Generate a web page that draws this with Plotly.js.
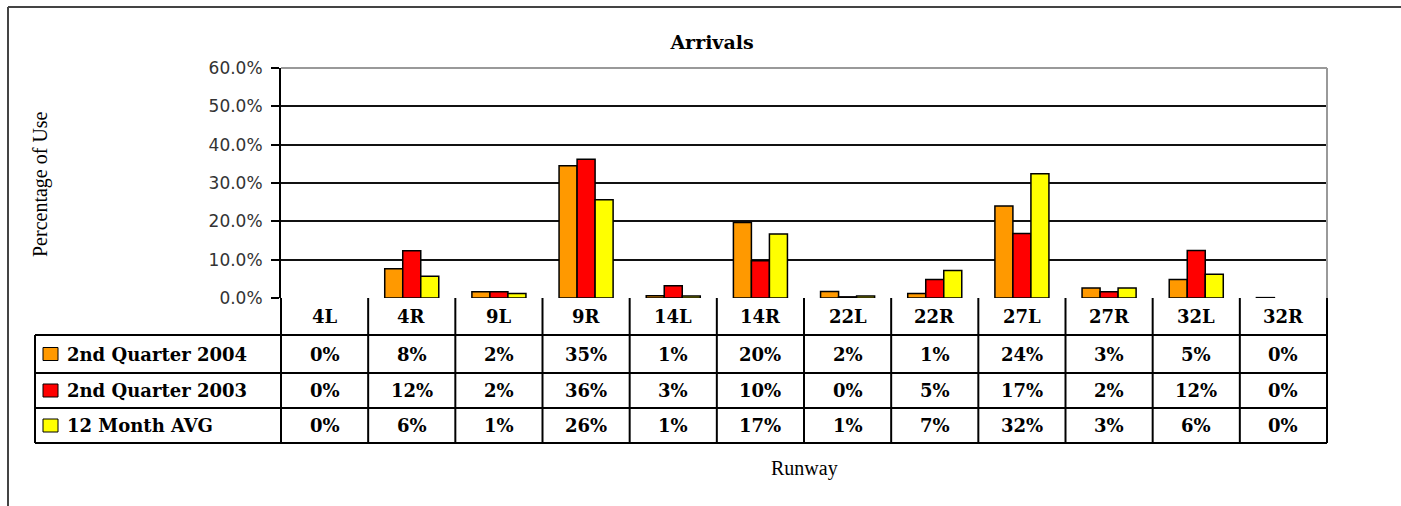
<!DOCTYPE html>
<html>
<head>
<meta charset="utf-8">
<script src="https://cdn.plot.ly/plotly-3.0.1.min.js"></script>
<style>
  html, body { margin: 0; padding: 0; background: #fff; }
  #chart { width: 1401px; height: 506px; }
</style>
</head>
<body>
<div id="chart"></div>
<script>
// ---- data ----
const runways = ['4L', '4R', '9L', '9R', '14L', '14R', '22L', '22R', '27L', '27R', '32L', '32R'];
const q2004 = [0, 7.6, 1.6, 34.5, 0.6, 19.7, 1.7, 1.2, 24.0, 2.6, 4.8, 0.1];
const q2003 = [0, 12.3, 1.6, 36.2, 3.2, 9.7, 0.3, 4.8, 16.8, 1.6, 12.4, 0];
const avg12 = [0, 5.7, 1.2, 25.6, 0.5, 16.7, 0.5, 7.2, 32.4, 2.6, 6.2, 0];
const seriesNames = ['2nd Quarter 2004', '2nd Quarter 2003', '12 Month AVG'];
const seriesColors = ['#FF9900', '#FF0000', '#FFFF00'];
const chartTitle = 'Arrivals';
const yTitle = 'Percentage of Use';
const xTitle = 'Runway';

const seriesValues = [q2004, q2003, avg12];

// ---- geometry helpers (pixel -> paper) ----
const W = 1401, H = 506;
const plotL = 281, plotR = 1327, plotT = 68, plotB = 298;
const pw = plotR - plotL, ph = plotB - plotT;
const px = p => (p - plotL) / pw;
const py = p => (plotB - p) / ph;

const tableLeft = 35;
const rowLines = [335, 373, 408, 443];   // horizontal lines of the data table
const headerMid = (plotB + rowLines[0]) / 2;
const rowMids = [0, 1, 2].map(i => (rowLines[i] + rowLines[i + 1]) / 2);

const serifBold = 'DejaVu Serif, Liberation Serif, serif';
const tableFont = { family: serifBold, size: 18, color: '#000' };

// ---- traces ----
const traces = seriesValues.map((vals, i) => ({
  type: 'bar',
  name: seriesNames[i],
  x: runways,
  y: vals,
  marker: {
    color: seriesColors[i],
    line: { color: '#000', width: vals.map(v => (v > 0 ? 1.5 : 0)) }
  },
  hoverinfo: 'x+y+name',
  showlegend: false
}));

// ---- shapes ----
const shapes = [];
const line = (x0, y0, x1, y1, xref, color, width) => ({
  type: 'line', xref: xref, yref: 'paper', x0, y0, x1, y1,
  line: { color: color, width: width }, layer: 'above'
});

// outer chart frame (left + top)
shapes.push(line(px(8), py(7), px(8), py(520), 'paper', '#444', 2));
shapes.push(line(px(8), py(7), px(1420), py(7), 'paper', '#444', 2));

// plot area border (top, right) in grey
shapes.push(line(0, 1, 1, 1, 'paper', '#999', 2));
shapes.push(line(1, 0, 1, 1, 'paper', '#999', 2));

// table horizontal lines
rowLines.forEach(r => shapes.push(line(px(tableLeft), py(r), 1, py(r), 'paper', '#000', 2)));
// table left edge of legend column
shapes.push(line(px(tableLeft), py(rowLines[0]), px(tableLeft), py(rowLines[3]), 'paper', '#000', 2));
// table column separators (outer edges in paper, inner on category boundaries)
shapes.push(line(0, py(plotB), 0, py(rowLines[3]), 'paper', '#000', 2));
shapes.push(line(1, py(plotB), 1, py(rowLines[3]), 'paper', '#000', 2));
for (let k = 1; k < runways.length; k++) {
  shapes.push(line(k - 0.5, py(plotB), k - 0.5, py(rowLines[3]), 'x', '#000', 2));
}
// legend keys
seriesColors.forEach((c, i) => {
  shapes.push({
    type: 'rect', xref: 'paper', yref: 'paper',
    x0: px(43), x1: px(58), y0: py(rowMids[i] - 6.5), y1: py(rowMids[i] + 6.5),
    fillcolor: c, line: { color: '#000', width: 1 }, layer: 'above'
  });
});

// ---- annotations ----
const annotations = [];
// header row: runway names
runways.forEach(r => annotations.push({
  xref: 'x', yref: 'paper', x: r, y: py(headerMid),
  text: '<b>' + r + '</b>', showarrow: false, font: tableFont,
  xanchor: 'center', yanchor: 'middle'
}));
// value rows
seriesValues.forEach((vals, i) => {
  annotations.push({
    xref: 'paper', yref: 'paper', x: px(65), y: py(rowMids[i]),
    text: '<b>' + seriesNames[i] + '</b>', showarrow: false, font: tableFont,
    xanchor: 'left', yanchor: 'middle'
  });
  vals.forEach((v, j) => annotations.push({
    xref: 'x', yref: 'paper', x: runways[j], y: py(rowMids[i]),
    text: '<b>' + Math.round(v) + '%</b>', showarrow: false, font: tableFont,
    xanchor: 'center', yanchor: 'middle'
  }));
});
// axis titles
annotations.push({
  xref: 'paper', yref: 'paper', x: px(40), y: py(184), textangle: -90,
  text: yTitle, showarrow: false,
  font: { family: 'Liberation Serif, serif', size: 20, color: '#000' },
  xanchor: 'center', yanchor: 'middle'
});
annotations.push({
  xref: 'paper', yref: 'paper', x: 0.5, y: py(468),
  text: xTitle, showarrow: false,
  font: { family: 'Liberation Serif, serif', size: 20, color: '#000' },
  xanchor: 'center', yanchor: 'middle'
});

const layout = {
  width: W, height: H,
  margin: { l: plotL, r: W - plotR, t: plotT, b: H - plotB, pad: 0 },
  paper_bgcolor: '#fff', plot_bgcolor: '#fff',
  title: {
    text: '<b>' + chartTitle + '</b>',
    font: { family: serifBold, size: 19, color: '#000' },
    x: 712 / W, xref: 'container', xanchor: 'center',
    y: 1 - 42 / H, yref: 'container', yanchor: 'middle'
  },
  barmode: 'group', bargap: 0.38, bargroupgap: 0,
  xaxis: {
    type: 'category', categoryorder: 'array', categoryarray: runways,
    range: [-0.5, runways.length - 0.5],
    showticklabels: false, ticks: '', showgrid: false, zeroline: false, showline: false,
    fixedrange: true
  },
  yaxis: {
    range: [0, 60], dtick: 10, tickformat: '.1f', ticksuffix: '%',
    ticks: 'outside', ticklen: 8, tickwidth: 2, tickcolor: '#000',
    ticklabelstandoff: 5,
    showline: true, linecolor: '#000', linewidth: 2,
    showgrid: true, gridcolor: '#111', gridwidth: 2,
    zeroline: false, fixedrange: true,
    tickfont: { family: 'DejaVu Sans, Verdana, sans-serif', size: 17, color: '#333' }
  },
  shapes: shapes,
  annotations: annotations,
  showlegend: false
};

Plotly.newPlot('chart', traces, layout, { displayModeBar: false, staticPlot: true });
</script>
</body>
</html>
